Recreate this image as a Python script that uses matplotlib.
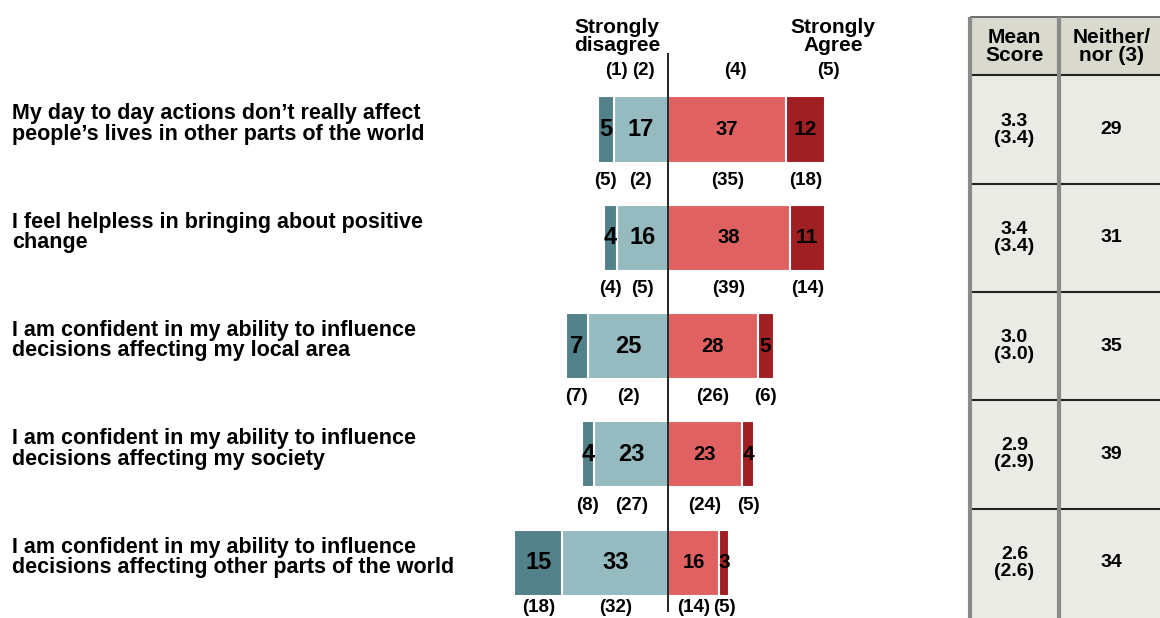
import matplotlib.pyplot as plt
from matplotlib.patches import Rectangle

plt.rcParams['font.family'] = ['Liberation Sans', 'DejaVu Sans']
plt.rcParams['font.weight'] = 'bold'

# data
labels = [
    "My day to day actions don\u2019t really affect\npeople\u2019s lives in other parts of the world",
    "I feel helpless in bringing about positive\nchange",
    "I am confident in my ability to influence\ndecisions affecting my local area",
    "I am confident in my ability to influence\ndecisions affecting my society",
    "I am confident in my ability to influence\ndecisions affecting other parts of the world",
]
strongly_disagree = [5, 4, 7, 4, 15]
disagree = [17, 16, 25, 23, 33]
agree = [37, 38, 28, 23, 16]
strongly_agree = [12, 11, 5, 4, 3]

prev_sd = [5, 4, 7, 8, 18]
prev_d = [2, 5, 2, 27, 32]
prev_a = [35, 39, 26, 24, 14]
prev_sa = [18, 14, 6, 5, 5]

mean_score = ['3.3', '3.4', '3.0', '2.9', '2.6']
prev_mean = ['3.4', '3.4', '3.0', '2.9', '2.6']
neither = [29, 31, 35, 39, 34]

c_sd = '#538189'
c_d = '#95bbc1'
c_a = '#e06162'
c_sa = '#a01f22'

W, H = 1160, 618
fig = plt.figure(figsize=(W / 100, H / 100), dpi=100, facecolor='white')
ax = fig.add_axes([0, 0, 1, 1])
ax.set_xlim(-668 / 3.2, (W - 668) / 3.2)
ax.set_ylim(4.511, -1.196)
ax.axis('off')

rows = range(len(labels))
bh = 0.61
kw = dict(height=bh, edgecolor='white', linewidth=1.5, zorder=2)
for i in rows:
    ax.barh(i, -disagree[i], left=0, color=c_d, **kw)
    ax.barh(i, -strongly_disagree[i], left=-disagree[i], color=c_sd, **kw)
    ax.barh(i, agree[i], left=0, color=c_a, **kw)
    ax.barh(i, strongly_agree[i], left=agree[i], color=c_sa, **kw)

    x_sd = -disagree[i] - strongly_disagree[i] / 2
    x_d = -disagree[i] / 2
    x_a = agree[i] / 2
    x_sa = agree[i] + strongly_agree[i] / 2
    ax.text(x_sd, i, str(strongly_disagree[i]), ha='center', va='center', fontsize=17, zorder=4)
    ax.text(x_d, i, str(disagree[i]), ha='center', va='center', fontsize=17, zorder=4)
    ax.text(x_a, i, str(agree[i]), ha='center', va='center', fontsize=14.5, zorder=4)
    ax.text(x_sa, i, str(strongly_agree[i]), ha='center', va='center', fontsize=15, zorder=4)

    yb = i + (0.47 if i < 4 else 0.41)
    for x, v in [(x_sd, prev_sd[i]), (x_d, prev_d[i]), (x_a, prev_a[i]), (x_sa, prev_sa[i])]:
        ax.text(x, yb, f'({v})', ha='center', va='center', fontsize=13.5)

    ax.text(12 / W, i - 0.05, labels[i], transform=ax.get_yaxis_transform(),
            ha='left', va='center', fontsize=15.5, linespacing=0.95)

# centre line
ax.vlines(0, -0.71, 4.455, color='black', linewidth=1.2, zorder=5)

# column headers
ax.text(-16, -0.86, 'Strongly\ndisagree', ha='center', va='center', fontsize=15, linespacing=0.95)
ax.text(51.5, -0.86, 'Strongly\nAgree', ha='center', va='center', fontsize=15, linespacing=0.95)
for x, t in [(-16, '(1)'), (-7.8, '(2)'), (21.2, '(4)'), (50, '(5)')]:
    ax.text(x, -0.545, t, ha='center', va='center', fontsize=13.5)

# table on the right
tr = ax.get_yaxis_transform()
x0, x1, x2 = 970 / W, 1059 / W, 1.01
ax.add_patch(Rectangle((x0, -1.04), x2 - x0, 0.54, transform=tr, facecolor='#d9d9cd',
                       edgecolor='none', zorder=0))
ax.add_patch(Rectangle((x0, -0.5), x2 - x0, 5.1, transform=tr, facecolor='#ebebe6',
                       edgecolor='none', zorder=0))
ax.hlines(-1.04, x0, x2, transform=tr, color='#555555', linewidth=1.2, zorder=1)
for yl in [-0.5, 0.5, 1.5, 2.5, 3.5]:
    ax.hlines(yl, x0, x2, transform=tr, color='#222222', linewidth=1.5, zorder=1)
for xl in [x0, x1]:
    ax.vlines(xl, -1.04, 4.6, transform=tr, color='#8a8a8a', linewidth=3, zorder=1)

xm = (x0 + x1) / 2
xn = (x1 + 1164 / W) / 2
ax.text(xm, -0.77, 'Mean\nScore', transform=tr, ha='center', va='center', fontsize=15, linespacing=0.95)
ax.text(xn, -0.77, 'Neither/\nnor (3)', transform=tr, ha='center', va='center', fontsize=15, linespacing=0.95)
for i in rows:
    ax.text(xm, i, f'{mean_score[i]}\n({prev_mean[i]})', transform=tr, ha='center', va='center',
            fontsize=14, linespacing=1.0)
    ax.text(xn, i, str(neither[i]), transform=tr, ha='center', va='center', fontsize=14)

fig.savefig('out.png', dpi=100, facecolor='white')
